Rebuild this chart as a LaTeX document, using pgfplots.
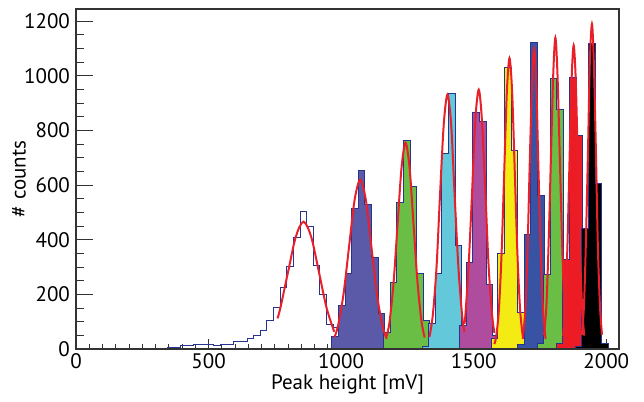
\documentclass[border=0pt]{standalone}
\usepackage{fontspec}
\setmainfont{PT Sans}
\usepackage{pgfplots}
\pgfplotsset{compat=1.18}
\definecolor{navy}{HTML}{27338C}
\definecolor{slate}{HTML}{5A5AA8}
\definecolor{hgreen}{HTML}{6ABD45}
\definecolor{hcyan}{HTML}{62C8DA}
\definecolor{hmag}{HTML}{B04C9E}
\definecolor{hyellow}{HTML}{F5EB14}
\definecolor{hblue}{HTML}{3953A4}
\definecolor{hred}{HTML}{ED1C24}
\definecolor{fitred}{HTML}{E8202A}
\definecolor{frame}{HTML}{333333}
\pgfplotsset{
  common/.style={
    scale only axis, width=271.5pt, height=170pt,
    xmin=0, xmax=2048, ymin=0, ymax=1245,
    axis line style={draw=frame, line width=0.6pt},
    tick style={draw=frame, line width=0.5pt},
    tick label style={font=\fontsize{10.5}{12}\selectfont},
    label style={font=\fontsize{10.5}{12}\selectfont},
    /pgf/number format/assume math mode=true,
    /pgf/number format/1000 sep={},
    scaled ticks=false,
  },
  hist/.style={const plot mark left, draw=navy, line width=0.5pt, fill=#1},
  fit/.style={smooth, draw=fitred, line width=1pt, mark=none},
}
\begin{document}
\begin{tikzpicture}
\begin{axis}[common, name=main,
  xtick={0,500,1000,1500,2000}, minor x tick num=9, xtick pos=bottom,
  ytick=\empty,
  major tick length=5pt, minor tick length=2.5pt,
  xlabel={Peak height [mV]},
  xticklabel style={yshift=1.5pt},
  xlabel style={yshift=3.5pt},
]
% white (outline only) histogram
\addplot[const plot mark left, draw=navy, line width=0.5pt] coordinates {
(0,0) (295,2) (320,3) (345,5) (370,7) (395,12) (420,12) (445,16) (470,15)
(495,18) (520,14) (545,17) (570,15) (595,26) (620,28) (645,37) (670,50)
(695,66) (720,106) (745,152) (770,224) (795,301) (820,407) (845,502)
(870,447) (895,307) (920,198) (945,90) (970,78) (995,0)};
% slate
\addplot[hist=slate] coordinates {
(965,45) (990,161) (1015,277) (1040,515) (1065,655) (1090,530) (1115,335)
(1140,130) (1165,35) (1190,4) (1215,4)} \closedcycle;
% green 1
\addplot[hist=hgreen] coordinates {
(1160,60) (1185,243) (1210,535) (1235,765) (1260,596) (1285,277) (1310,106)
(1335,45) (1360,5) (1385,5)} \closedcycle;
% cyan
\addplot[hist=hcyan] coordinates {
(1305,8) (1330,94) (1355,277) (1380,716) (1405,935) (1430,380) (1455,57)
(1480,8) (1505,8)} \closedcycle;
% magenta
\addplot[hist=hmag] coordinates {
(1447,85) (1472,318) (1497,865) (1522,832) (1547,236) (1572,50) (1597,8)
(1622,8)} \closedcycle;
% yellow
\addplot[hist=hyellow] coordinates {
(1566,40) (1591,348) (1616,1031) (1641,728) (1666,133) (1691,10) (1716,10)} \closedcycle;
% blue
\addplot[hist=hblue] coordinates {
(1666,15) (1691,421) (1716,1121) (1741,563) (1766,40) (1791,5) (1816,5)} \closedcycle;
% green 2
\addplot[hist=hgreen] coordinates {
(1739,20) (1764,271) (1789,990) (1814,878) (1839,94) (1864,10) (1889,10)} \closedcycle;
% red
\addplot[hist=hred] coordinates {
(1811,20) (1836,326) (1861,994) (1886,783) (1911,63) (1936,10) (1961,10)} \closedcycle;
% black
\addplot[hist=black] coordinates {
(1883,10) (1908,441) (1933,1120) (1958,606) (1983,21) (2008,21)} \closedcycle;
% Gaussian fits
\addplot[fit] coordinates {(760,112) (771,151) (800,283) (829,411) (858,466) (887,411) (916,283) (945,151) (974,63)};
\addplot[fit] coordinates {(975,44) (988,84) (1009,201) (1030,376) (1051,547) (1072,620) (1093,547) (1114,376) (1135,201) (1156,84) (1172,37)};
\addplot[fit] coordinates {(1172,46) (1183,102) (1198,245) (1213,458) (1228,666) (1243,755) (1258,666) (1273,458) (1288,245) (1303,102) (1315,42)};
\addplot[fit] coordinates {(1333,44) (1346,126) (1360,303) (1373,565) (1387,822) (1401,932) (1415,822) (1428,565) (1442,303) (1456,126) (1465,62)};
\addplot[fit] coordinates {(1465,92) (1469,129) (1481,308) (1494,576) (1506,838) (1519,950) (1531,838) (1544,576) (1556,308) (1569,129) (1578,59)};
\addplot[fit] coordinates {(1578,18) (1585,47) (1595,144) (1605,346) (1615,646) (1625,940) (1635,1065) (1645,940) (1655,646) (1665,346) (1675,144) (1685,47)};
\addplot[fit] coordinates {(1685,37) (1695,149) (1703,357) (1711,667) (1720,971) (1728,1100) (1736,971) (1744,667) (1753,357) (1761,149) (1771,37)};
\addplot[fit] coordinates {(1765,50) (1774,154) (1782,370) (1791,691) (1800,1006) (1808,1140) (1816,1006) (1825,691) (1834,370) (1842,154) (1851,50)};
\addplot[fit] coordinates {(1837,49) (1845,150) (1853,361) (1861,674) (1869,981) (1877,1112) (1885,981) (1893,674) (1901,361) (1909,150) (1917,49)};
\addplot[fit] coordinates {(1908,52) (1916,161) (1923,386) (1931,722) (1938,1050) (1946,1190) (1953,1050) (1961,722) (1968,386) (1976,161) (1984,52)};
\end{axis}
\begin{axis}[common,
  xtick=\empty,
  ytick={0,200,400,600,800,1000,1200}, minor y tick num=3, ytick pos=left,
  major tick length=8.3pt, minor tick length=4.2pt,
  ylabel={\# counts},
  yticklabel style={xshift=0.5pt},
  ylabel style={at={(axis description cs:-0.105,0.5)}, anchor=center},
]
\end{axis}
\path ([xshift=-38pt,yshift=-21pt]main.south west) rectangle ([xshift=12.5pt,yshift=4.5pt]main.north east);
\end{tikzpicture}
\end{document}
